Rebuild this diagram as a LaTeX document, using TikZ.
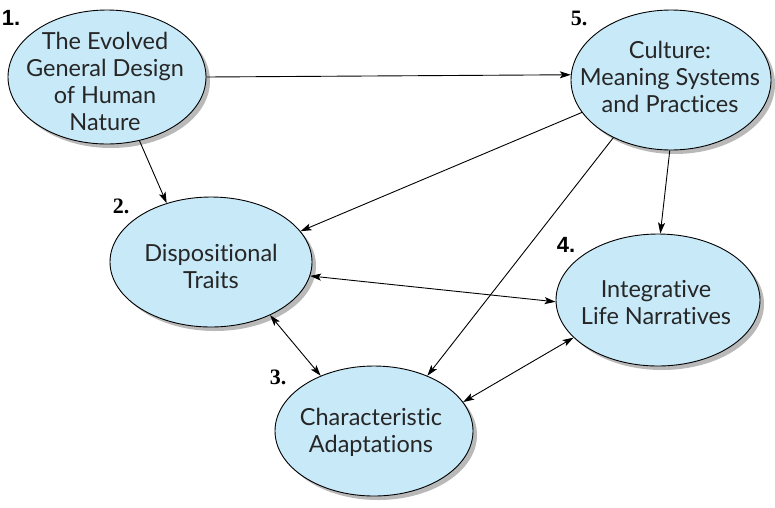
\documentclass[tikz,border=0pt]{standalone}
\usepackage{fontspec}
\setmainfont{Lato}[Ligatures={NoCommon,NoRare}]
\newfontfamily\numserif{Liberation Serif}
\newfontfamily\numsans{Liberation Sans}
\usetikzlibrary{arrows.meta,shapes.geometric,shadows}
\definecolor{bubble}{RGB}{200,233,248}
\definecolor{shade}{RGB}{185,185,185}
\begin{document}
\begin{tikzpicture}[x=1pt,y=-1pt,
  bubble/.style={ellipse, draw=black, line width=0.9pt, fill=bubble,
    inner sep=0pt,
    drop shadow={shadow xshift=4pt, shadow yshift=-4pt, fill=shade, opacity=1}},
  caption/.style={align=center, inner sep=0pt, text=black!85,
    font=\fontsize{23.5}{27}\selectfont},
  numlabel/.style={font=\fontsize{22}{24}\selectfont\bfseries, inner sep=0pt},
  link/.style={line width=0.9pt, -{Stealth[length=11pt,width=7pt,inset=2.5pt]}},
  twoway/.style={line width=0.9pt, {Stealth[length=11pt,width=7pt,inset=2.5pt]}-{Stealth[length=11pt,width=7pt,inset=2.5pt]}}]
\useasboundingbox (0,0) rectangle (775,507);

% the five components
\node[bubble, minimum width=198pt, minimum height=134pt] (n1) at (107,77) {};
\node[bubble, minimum width=202pt, minimum height=130pt] (n2) at (211,262) {};
\node[bubble, minimum width=198pt, minimum height=130pt] (n3) at (374,431) {};
\node[bubble, minimum width=204pt, minimum height=132pt] (n4) at (658,300) {};
\node[bubble, minimum width=200pt, minimum height=140pt] (n5) at (671,80) {};

\node[caption] (t1) at (105,81) {The Evolved\\General Design\\of Human\\Nature};
\node[caption] (t2) at (211,266) {Dispositional\\Traits};
\node[caption] (t3) at (371,432) {Characteristic\\Adaptations};
\node[caption] (t4) at (656,303) {Integrative\\Life Narratives};
\node[caption] (t5) at (670,77) {Culture:\\Meaning Systems\\and Practices};

% numbering
\node[numlabel] (l1) at (11,18) {\numsans 1.};
\node[numlabel] (l2) at (121,206) {\numserif 2.};
\node[numlabel] (l3) at (278,377) {\numserif 3.};
\node[numlabel] (l4) at (566,245) {\numsans 4.};
\node[numlabel] (l5) at (579,18) {\numserif 5.};

% influences
\draw[link] (n1.0) -- (n5.177);
\draw[link] (n1.-63) -- (n2.127);
\draw[link] (n5.200) -- (n2.19);
\draw[link] (n5.225) -- (n3.46);
\draw[link] (n5.269) -- (n4.88);
\draw[twoway] (n2.-8) -- (n4.181);
\draw[twoway] (n2.-42) -- (n3.134);
\draw[twoway] (n3.18) -- (n4.204);
\end{tikzpicture}
\end{document}
